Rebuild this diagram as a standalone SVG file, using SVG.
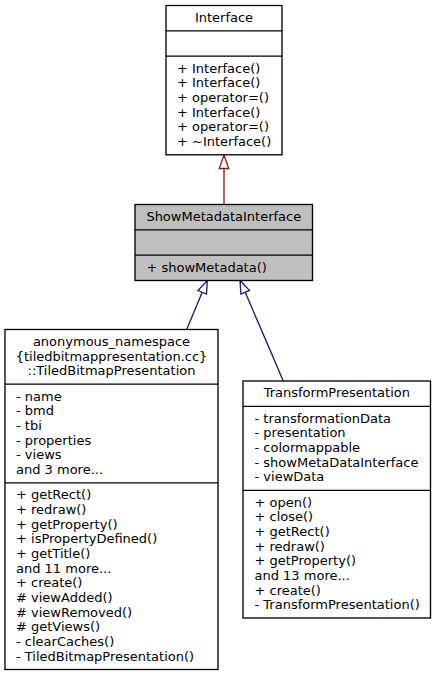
<svg xmlns="http://www.w3.org/2000/svg" width="437" height="676" viewBox="0 0 437 676">
<style>
  .box { fill: #ffffff; stroke: #000000; stroke-width: 1.33; }
  .grey { fill: #bfbfbf; }
  .div { stroke: #000000; stroke-width: 1.33; fill: none; }
  text { font-family: "DejaVu Sans", "Liberation Sans", sans-serif; font-size: 13px; fill: #000000; }
  .c { text-anchor: middle; }
  .pub { stroke: #191970; stroke-width: 1.33; fill: none; }
  .pubh { stroke: #191970; stroke-width: 1.33; fill: #ffffff; }
  .priv { stroke: #8b1a1a; stroke-width: 1.33; fill: none; }
  .privh { stroke: #8b1a1a; stroke-width: 1.33; fill: #ffffff; }
</style>
<rect width="437" height="676" fill="#ffffff"/>

<g id="connectors">
  <path class="priv" d="M224,204.5 L224,168.5"/>
  <polygon class="privh" points="224,155 228.7,168.5 219.3,168.5"/>
  <path class="pub" d="M186.7,329.5 L202.2,292.3"/>
  <polygon class="pubh" points="207.3,280.5 206.5,294.1 197.9,290.5"/>
  <path class="pub" d="M283.3,381 L245.2,292.2"/>
  <polygon class="pubh" points="240,280.5 249.5,290.4 240.9,294.1"/>
</g>

<g id="node-Interface">
  <rect class="box" x="166" y="5.5" width="116" height="149.3"/>
  <path class="div" d="M166,30.8 H282 M166,56.2 H282"/>
  <text class="c" x="224" y="21.8">Interface</text>
  <text x="177" y="72.5">+ Interface()</text>
  <text x="177" y="87.2">+ Interface()</text>
  <text x="177" y="101.8">+ operator=()</text>
  <text x="177" y="116.5">+ Interface()</text>
  <text x="177" y="131.2">+ operator=()</text>
  <text x="177" y="145.8">+ ~Interface()</text>
</g>

<g id="node-ShowMetadataInterface">
  <rect class="box grey" x="135" y="204.5" width="177.5" height="76"/>
  <path class="div" d="M135,229.8 H312.5 M135,255.2 H312.5"/>
  <text class="c" x="223.8" y="220.8">ShowMetadataInterface</text>
  <text x="146.5" y="271.5">+ showMetadata()</text>
</g>

<g id="node-TiledBitmapPresentation">
  <rect class="box" x="5" y="329.5" width="213" height="340"/>
  <path class="div" d="M5,384.2 H218 M5,482.8 H218"/>
  <text class="c" x="111.5" y="345.8">anonymous_namespace</text>
  <text class="c" x="111.5" y="360.5">{tiledbitmappresentation.cc}</text>
  <text class="c" x="111.5" y="375.2">::TiledBitmapPresentation</text>
  <text x="16" y="400.5">- name</text>
  <text x="16" y="415.2">- bmd</text>
  <text x="16" y="429.8">- tbi</text>
  <text x="16" y="444.5">- properties</text>
  <text x="16" y="459.2">- views</text>
  <text x="16" y="473.8">and 3 more...</text>
  <text x="16" y="499.1">+ getRect()</text>
  <text x="16" y="513.8">+ redraw()</text>
  <text x="16" y="528.5">+ getProperty()</text>
  <text x="16" y="543.1">+ isPropertyDefined()</text>
  <text x="16" y="557.8">+ getTitle()</text>
  <text x="16" y="572.5">and 11 more...</text>
  <text x="16" y="587.1">+ create()</text>
  <text x="16" y="601.8"># viewAdded()</text>
  <text x="16" y="616.5"># viewRemoved()</text>
  <text x="16" y="631.1"># getViews()</text>
  <text x="16" y="645.8">- clearCaches()</text>
  <text x="16" y="660.5">- TiledBitmapPresentation()</text>
</g>

<g id="node-TransformPresentation">
  <rect class="box" x="243" y="381" width="187.5" height="237"/>
  <path class="div" d="M243,406.3 H430.5 M243,490.3 H430.5"/>
  <text class="c" x="336.8" y="397.3">TransformPresentation</text>
  <text x="254.5" y="422.6">- transformationData</text>
  <text x="254.5" y="437.3">- presentation</text>
  <text x="254.5" y="452">- colormappable</text>
  <text x="254.5" y="466.6">- showMetaDataInterface</text>
  <text x="254.5" y="481.3">- viewData</text>
  <text x="254.5" y="506.6">+ open()</text>
  <text x="254.5" y="521.3">+ close()</text>
  <text x="254.5" y="536">+ getRect()</text>
  <text x="254.5" y="550.6">+ redraw()</text>
  <text x="254.5" y="565.3">+ getProperty()</text>
  <text x="254.5" y="580">and 13 more...</text>
  <text x="254.5" y="594.6">+ create()</text>
  <text x="254.5" y="609.3">- TransformPresentation()</text>
</g>
</svg>
